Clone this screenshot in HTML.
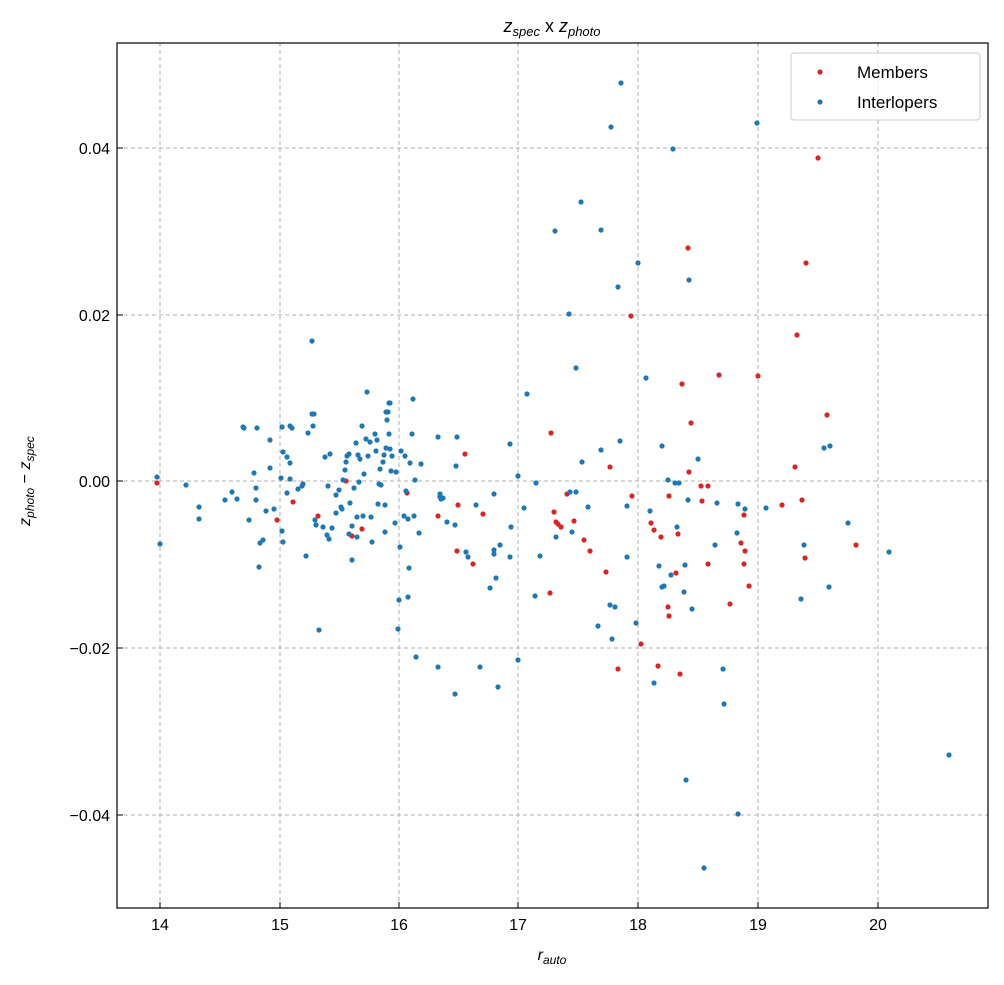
<!DOCTYPE html>
<html><head><meta charset="utf-8"><style>
html,body{margin:0;padding:0;background:#fff;}
svg text{font-family:"Liberation Sans","DejaVu Sans",sans-serif;fill:#000;}
</style></head><body>
<svg width="1004" height="980" xmlns="http://www.w3.org/2000/svg">
<rect width="1004" height="980" fill="#fff"/>
<g stroke="#b0b0b0" stroke-dasharray="4,3" stroke-width="1">
<line x1="160" y1="43" x2="160" y2="908"/><line x1="280" y1="43" x2="280" y2="908"/><line x1="399" y1="43" x2="399" y2="908"/><line x1="518" y1="43" x2="518" y2="908"/><line x1="638" y1="43" x2="638" y2="908"/><line x1="758" y1="43" x2="758" y2="908"/><line x1="878" y1="43" x2="878" y2="908"/>
<line x1="117" y1="148" x2="988" y2="148"/><line x1="117" y1="315" x2="988" y2="315"/><line x1="117" y1="481" x2="988" y2="481"/><line x1="117" y1="648" x2="988" y2="648"/><line x1="117" y1="815" x2="988" y2="815"/>
</g>
<g id="pts"></g>
<rect x="117" y="43" width="871" height="865" fill="none" stroke="#000" stroke-width="1.2"/>
<g stroke="#000" stroke-width="1">
<line x1="160" y1="908" x2="160" y2="902"/><line x1="280" y1="908" x2="280" y2="902"/><line x1="399" y1="908" x2="399" y2="902"/><line x1="518" y1="908" x2="518" y2="902"/><line x1="638" y1="908" x2="638" y2="902"/><line x1="758" y1="908" x2="758" y2="902"/><line x1="878" y1="908" x2="878" y2="902"/>
<line x1="117" y1="148" x2="123" y2="148"/><line x1="117" y1="315" x2="123" y2="315"/><line x1="117" y1="481" x2="123" y2="481"/><line x1="117" y1="648" x2="123" y2="648"/><line x1="117" y1="815" x2="123" y2="815"/>
</g>
<g font-size="16" text-anchor="middle">
<text x="160" y="930">14</text><text x="280" y="930">15</text><text x="399" y="930">16</text><text x="518" y="930">17</text><text x="638" y="930">18</text><text x="758" y="930">19</text><text x="878" y="930">20</text>
</g>
<g font-size="16" text-anchor="end">
<text x="110" y="154">0.04</text><text x="110" y="321">0.02</text><text x="110" y="487">0.00</text><text x="110" y="654">−0.02</text><text x="110" y="821">−0.04</text>
</g>
<text x="552" y="960" font-size="16" text-anchor="middle"><tspan font-style="italic">r</tspan><tspan font-size="12" dy="4" font-style="italic">auto</tspan></text>
<text transform="translate(30,481) rotate(-90)" font-size="16" text-anchor="middle"><tspan font-style="italic">z</tspan><tspan font-size="12" dy="4" font-style="italic">photo</tspan><tspan dy="-4"> − </tspan><tspan font-style="italic">z</tspan><tspan font-size="12" dy="4" font-style="italic">spec</tspan></text>
<text x="552" y="32" font-size="18" text-anchor="middle"><tspan font-style="italic">z</tspan><tspan font-size="13" dy="4" font-style="italic">spec</tspan><tspan dy="-4"> x </tspan><tspan font-style="italic">z</tspan><tspan font-size="13" dy="4" font-style="italic">photo</tspan></text>
<rect x="791" y="53" width="189" height="67" rx="3" fill="#fff" fill-opacity="0.8" stroke="#ccc"/>
<circle cx="820" cy="72" r="2.6" fill="#d62728"/><circle cx="820" cy="102" r="2.6" fill="#1f77b4"/>
<text x="857" y="78" font-size="17">Members</text><text x="857" y="108" font-size="17">Interlopers</text>
</svg>
<script>
var B=[157,477,160,544,186,485,199,507,199,519,225,500,232,492,237,499,244,428,249,520,254,473,256,488,256,500,260,543,263,540,259,567,266,511,270,468,274,509,281,478,283,452,287,457,292,428,290,463,282,531,283,542,287,493,290,479,298,489,302,486,303,484,306,556,308,433,312,414,313,426,315,520,316,525,319,630,323,527,325,457,327,535,329,539,328,486,330,454,332,528,336,495,336,513,339,490,341,507,342,509,343,480,345,470,346,462,347,456,349,454,349,534,350,503,352,560,352,526,354,488,356,443,357,537,357,517,359,482,360,459,358,455,362,426,363,516,364,474,366,439,367,392,368,456,370,442,371,517,372,542,375,434,376,451,377,440,378,504,379,484,380,469,381,485,383,462,384,455,386,448,385,505,387,420,388,412,390,449,385,532,386,412,390,403,389,434,391,471,392,456,395,523,396,472,398,629,399,600,400,547,401,451,404,516,405,456,406,491,408,597,409,568,408,519,410,463,412,434,414,516,415,480,416,657,419,533,421,464,438,437,438,667,440,494,440,497,441,499,443,498,447,522,455,525,455,694,456,466,457,437,466,552,468,557,476,505,480,667,490,588,494,494,494,550,494,554,496,578,498,687,500,545,510,444,510,557,511,527,518,476,518,660,524,508,527,394,535,596,536,483,540,556,556,537,570,492,572,532,576,368,576,492,582,462,588,507,598,626,601,450,610,605,612,639,615,607,620,441,627,557,627,506,636,623,638,263,646,378,650,511,654,683,659,566,662,446,662,587,664,586,668,480,671,575,675,483,677,527,679,483,684,592,685,565,686,780,688,500,689,280,692,609,698,459,704,868,715,545,717,503,723,669,724,704,738,814,737,533,738,504,745,509,766,508,801,599,804,545,824,448,829,587,830,446,848,523,889,552,949,755,621,83,611,127,757,123,673,149,581,202,555,231,601,230,618,287,569,314,312,341,413,399,389,403,257,428,270,440,282,427,290,426,314,414,243,427];
var R=[157,483,277,520,293,502,318,516,346,481,352,536,362,529,407,493,438,516,457,551,458,505,465,454,473,564,483,514,551,433,550,593,554,512,556,522,558,524,561,527,567,494,574,521,584,540,590,551,606,572,610,467,618,669,631,316,632,496,641,644,651,523,654,530,658,666,661,537,668,607,669,616,669,496,676,573,678,534,680,674,682,384,688,248,689,472,691,423,701,486,702,501,708,486,708,564,719,375,730,604,741,543,744,515,745,551,744,564,749,586,758,376,782,505,795,467,797,335,802,500,805,558,806,263,827,415,856,545,818,158];
var g=document.getElementById('pts'),s='';
for(var i=0;i<R.length;i+=2)s+='<circle cx="'+R[i]+'" cy="'+R[i+1]+'" r="2.6" fill="#d62728"/>';
for(var i=0;i<B.length;i+=2)s+='<circle cx="'+B[i]+'" cy="'+B[i+1]+'" r="2.6" fill="#1f77b4"/>';
g.innerHTML=s;
</script>
</body></html>
